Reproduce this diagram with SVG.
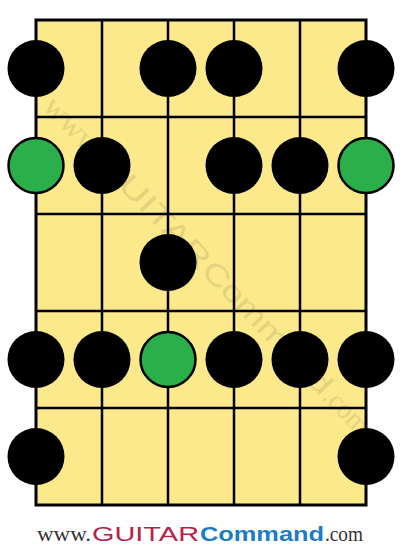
<svg xmlns="http://www.w3.org/2000/svg" width="402" height="550" viewBox="0 0 402 550">
<style>
.board{fill:#FBE98C;stroke:#000;stroke-width:3}
.line{stroke:#000;stroke-width:2.5;fill:none}
.dot{fill:#000}
.root{fill:#2BAF4A;stroke:#000;stroke-width:2.5}
.serif{font-family:"Liberation Serif","Times New Roman",serif}
.sans{font-family:"Liberation Sans",Arial,sans-serif}
</style>
<rect width="402" height="550" fill="#fff"/>
<g id="fretboard">
<rect class="board" x="36" y="20" width="330" height="485"/>
<g class="line">
<line x1="102" y1="20" x2="102" y2="505"/>
<line x1="168" y1="20" x2="168" y2="505"/>
<line x1="234" y1="20" x2="234" y2="505"/>
<line x1="300" y1="20" x2="300" y2="505"/>
<line x1="36" y1="117" x2="366" y2="117"/>
<line x1="36" y1="214" x2="366" y2="214"/>
<line x1="36" y1="311" x2="366" y2="311"/>
<line x1="36" y1="408" x2="366" y2="408"/>
</g>
</g>
<g id="watermark" transform="translate(200,272) rotate(46) scale(1.4) translate(-200,-541)" fill="#000" opacity="0.09">
<text class="serif" x="37" y="541" font-size="22" textLength="54" lengthAdjust="spacingAndGlyphs">www.</text>
<text class="sans" x="92" y="541" font-size="21" textLength="107" lengthAdjust="spacingAndGlyphs">GUITAR</text>
<text class="sans" x="200" y="541" font-size="21" textLength="124" lengthAdjust="spacingAndGlyphs">Command</text>
<text class="serif" x="325" y="541" font-size="21" textLength="38" lengthAdjust="spacingAndGlyphs">.com</text>
</g>
<g id="notes">
<g id="fret1">
<circle class="dot" cx="36" cy="68.5" r="28.5"/>
<circle class="dot" cx="168" cy="68.5" r="28.5"/>
<circle class="dot" cx="234" cy="68.5" r="28.5"/>
<circle class="dot" cx="366" cy="68.5" r="28.5"/>
</g>
<g id="fret2">
<circle class="root" cx="36" cy="165.5" r="27.5"/>
<circle class="dot" cx="102" cy="165.5" r="28.5"/>
<circle class="dot" cx="234" cy="165.5" r="28.5"/>
<circle class="dot" cx="300" cy="165.5" r="28.5"/>
<circle class="root" cx="366" cy="165.5" r="27.5"/>
</g>
<g id="fret3">
<circle class="dot" cx="168" cy="262.5" r="28.5"/>
</g>
<g id="fret4">
<circle class="dot" cx="36" cy="359.5" r="28.5"/>
<circle class="dot" cx="102" cy="359.5" r="28.5"/>
<circle class="root" cx="168" cy="359.5" r="27.5"/>
<circle class="dot" cx="234" cy="359.5" r="28.5"/>
<circle class="dot" cx="300" cy="359.5" r="28.5"/>
<circle class="dot" cx="366" cy="359.5" r="28.5"/>
</g>
<g id="fret5">
<circle class="dot" cx="36" cy="456.5" r="28.5"/>
<circle class="dot" cx="366" cy="456.5" r="28.5"/>
</g>
</g>
<g id="logo">
<text class="serif" x="37" y="541" font-size="22" fill="#333" textLength="54" lengthAdjust="spacingAndGlyphs">www.</text>
<text class="sans" x="92" y="541" font-size="21" fill="#B5234D" textLength="107" lengthAdjust="spacingAndGlyphs">GUITAR</text>
<text class="sans" x="200" y="541" font-size="21" font-weight="bold" fill="#1C7CC4" textLength="124" lengthAdjust="spacingAndGlyphs">Command</text>
<text class="serif" x="325" y="541" font-size="21" fill="#333" textLength="38" lengthAdjust="spacingAndGlyphs">.com</text>
</g>
</svg>
